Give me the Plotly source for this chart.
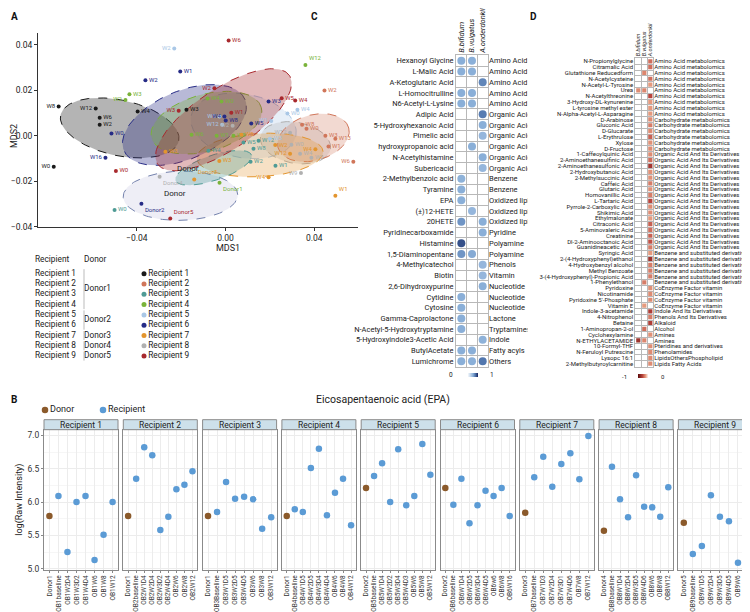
import numpy as np
import plotly.graph_objects as go

W, H = 750, 612
FONT = "Roboto"
TXT = "#222222"


def px(v):
    return v / W


def py(v):
    return 1 - v / H


# ---------------- Panel A data ----------------
recipients = [f"Recipient {i}" for i in range(1, 10)]
recipient_colors = ["#1a1a1a", "#d0765a", "#4f9b95", "#7ab33a", "#a9c7e6",
                    "#262b86", "#e3952e", "#b0b0b0", "#a8292e"]
recipient_donor = ["Donor1", "Donor1", "Donor1", "Donor1", "Donor2", "Donor2",
                   "Donor3", "Donor4", "Donor5"]

mds_group = [1] * 7 + [2] * 7 + [3] * 7 + [4] * 9 + [5] * 7 + [6] * 9 + [7] * 9 + [8] * 7 + [9] * 8
mds_label = ["W0", "W8", "W12", "W6", "W2", "W4", "W3",
             "W2", "W8", "W0", "W3", "W13", "W1", "W6",
             "W0", "W4", "W5", "W12", "W8", "W2", "W1",
             "W3", "W2", "W4", "W0", "W6", "W1", "W8", "W12", "Donor1",
             "W2", "W4", "W0", "W1", "W3", "W8", "W12",
             "W1", "W2", "W0", "W16", "W4", "W8", "W3", "W5", "Donor2",
             "W3", "W3", "W5", "W2", "W12", "W4", "W4", "W1", "Donor3",
             "W2", "W12", "W0", "W4", "W3", "W9", "Donor4",
             "W6", "W2", "W1", "W3", "W0", "W5", "W4", "Donor5"]
mds1 = [-0.0774, -0.0752, -0.0585, -0.0567, -0.0567, -0.0396, -0.0176,
        0.0446, 0.0345, 0.0365, 0.0450, 0.0495, 0.0464, 0.0576,
        -0.0500, -0.0077, 0.0081, 0.0149, 0.0126, 0.0113, 0.0225,
        -0.0433, -0.0451, -0.0081, -0.0018, -0.0153, -0.0040, 0.0036, 0.0360, -0.0027,
        -0.0231, 0.0324, 0.0279, 0.0206, 0.0200, -0.0027, -0.0015,
        -0.0204, -0.0361, -0.0514, -0.0541, -0.0005, 0.0001, 0.0194, 0.0116, -0.0379,
        -0.0271, -0.0028, 0.0072, 0.0224, 0.0291, 0.0405, 0.0194, 0.0495, -0.0141,
        0.0032, 0.0291, 0.0297, 0.0336, 0.0387, 0.0340, -0.0297,
        0.0014, -0.0050, 0.0026, -0.0211, -0.0494, 0.0253, 0.0314, -0.0249]
mds2 = [-0.0136, 0.0128, 0.0119, 0.0079, 0.0048, 0.0106, 0.0114,
        0.0198, 0.0048, 0.0031, 0.0000, -0.0013, -0.0048, -0.0114,
        -0.0326, -0.0066, -0.0030, -0.0022, -0.0057, -0.0114, -0.0132,
        0.0182, 0.0157, 0.0163, 0.0150, 0.0004, 0.0000, 0.0000, 0.0310, -0.0207,
        0.0383, 0.0114, 0.0097, 0.0065, -0.0013, 0.0084, 0.0048,
        0.0282, 0.0243, 0.0010, -0.0097, 0.0084, 0.0067, 0.0150, 0.0054, -0.0299,
        -0.0070, -0.0111, 0.0004, -0.0041, -0.0079, -0.0060, -0.0182, -0.0264, -0.0192,
        0.0044, 0.0013, -0.0040, -0.0079, -0.0097, -0.0164, -0.0180,
        0.0418, 0.0208, 0.0101, 0.0109, -0.0155, 0.0164, 0.0155, -0.0364]
label_side = ["L", "L", "L", "R", "R", "R", "R",
              "R", "R", "R", "R", "R", "R", "L",
              "R", "R", "R", "R", "R", "R", "R",
              "R", "L", "R", "R", "R", "R", "R", "TR", "BR",
              "L", "R", "R", "L", "R", "L", "L",
              "R", "R", "R", "L", "L", "R", "R", "R", "BR",
              "R", "R", "R", "R", "L", "L", "L", "TR", "TR",
              "L", "L", "R", "R", "R", "L", "BR",
              "R", "L", "R", "L", "R", "R", "R", "TR"]

# 95% ellipses (group 0 = Donor)
ell_group = [0, 1, 5, 8, 2, 7, 3, 6, 4, 9]
ell_cx = [-0.0203, -0.0477, 0.0081, 0.0315, 0.0396, 0.0155, -0.0054, -0.0185, -0.0086, -0.0009]
ell_cy = [-0.0264, 0.0034, 0.0043, -0.0031, -0.0009, -0.0085, -0.0141, 0.0047, 0.0057, 0.0070]
ell_a = [0.0258, 0.0272, 0.0240, 0.0160, 0.0165, 0.0285, 0.0180, 0.0295, 0.0256, 0.0355]
ell_b = [0.0108, 0.0122, 0.0140, 0.0090, 0.0100, 0.0095, 0.0055, 0.0150, 0.0125, 0.0135]
ell_deg = [1, -12, -10, -10, 15, 3, 18, 22, 15, 33]

# ---------------- Panel C data ----------------
c_metabolites = ["Hexanoyl Glycine", "L-Malic Acid", "A-Ketoglutaric Acid", "L-Homocitrulline",
                 "N6-Acetyl-L-Lysine", "Adipic Acid", "5-Hydroxyhexanoic Acid", "Pimelic acid",
                 "hydroxypropanoic acid", "N-Acetylhistamine", "Subericacid", "2-Methylbenzoic acid",
                 "Tyramine", "EPA", "(±)12-HETE", "20HETE", "Pyridinecarboxamide", "Histamine",
                 "1,5-Diaminopentane", "4-Methylcatechol", "Biotin", "2,6-Dihydroxypurine",
                 "Cytidine", "Cytosine", "Gamma-Caprolactone", "N-Acetyl-5-Hydroxytryptamine",
                 "5-Hydroxyindole3-Acetic Acid", "ButylAcetate", "Lumichrome"]
c_classes = (["Amino Acid"] * 5 + ["Organic Acid"] * 6 + ["Benzene"] * 2 + ["Oxidized lipid"] * 3
             + ["Pyridine"] + ["Polyamine"] * 2
             + ["Phenols", "Vitamin", "Nucleotide", "Nucleotide", "Nucleotide", "Lactone",
                "Tryptamines", "Indole", "Fatty acyls", "Others"])
bacteria = ["B.bifidum", "B.vulgatus", "A.onderdonkii"]
N = None
c_bif = [0.5, 0.5, N, 0.5, 0.5, N, N, N, N, N, N, 0.48, 0.5, 0.5, N, 0.6, N, 0.85,
         0.6, N, N, N, 0.5, 0.5, 0.5, 0.5, N, 0.5, 0.5]
c_vul = [0.5, 0.5, N, 0.5, 0.5, N, N, N, 0.5, N, N, N, N, N, 0.45, N, N, N,
         0.52, N, N, N, N, N, N, N, N, 0.5, 0.5]
c_ond = [N, N, 0.66, N, N, 0.7, 0.5, 0.45, N, 0.5, 0.45, N, N, N, N, 0.5, 0.5, N,
         N, 0.45, 0.45, 0.5, N, N, N, N, 0.48, N, 0.72]

# ---------------- Panel D data ----------------
d_metabolites = ["N-Propionylglycine", "Citramalic Acid", "Glutathione Reducedform", "N-Acetylcysteine",
                 "N-Acetyl-L-Tyrosine", "Urea", "N-Acetylthreonine", "3-Hydroxy-DL-kynurenine",
                 "L-tyrosine methyl ester", "N-Alpha-Acetyl-L-Asparagine", "D-Arabinose", "Gluconic Acid",
                 "D-Glucarate", "L-Erythrulose", "Xylose", "D-Fructose", "1-Caffeoylquinic Acid",
                 "2-Aminoethanesulfinic Acid", "2-Aminoethanesulfonic Acid", "2-Hydroxybutanoic Acid",
                 "2-Methylsuccinic Acid", "Caffeic Acid", "Glutaric Acid", "Homovanillic Acid",
                 "L-Tartaric Acid", "Pyrrole-2-Carboxylic Acid", "Shikimic Acid", "Ethylmalonate",
                 "Citraconic Acid", "5-Aminovaleric Acid", "Creatinine", "Dl-2-Aminooctanoic Acid",
                 "Guanidineacetic Acid", "Syringic Acid", "2-(4-Hydroxyphenyl)ethanol",
                 "4-Hydroxybenzyl alcohol", "Methyl Benzoate", "3-(4-Hydroxyphenyl)-Propionic Acid",
                 "1-Phenylethanol", "Pyridoxine", "Nicotinamide", "Pyridoxine 5'-Phosphate",
                 "Vitamin E", "Indole-3-acetamide", "4-Nitrophenol", "Betaine", "1-Aminopropan-2-ol",
                 "Cyclohexylamine", "N-ETHYLACETAMIDE", "10-Formyl-THF", "N-Feruloyl Putrescine",
                 "Lysopc 16:1", "2-Methylbutyroylcarnitine"]
d_classes = (["Amino Acid metabolomics"] * 10 + ["Carbohydrate metabolomics"] * 6
             + ["Organic Acid And Its Derivatives"] * 17 + ["Benzene and substituted derivatives"] * 6
             + ["CoEnzyme Factor vitamin"] * 4
             + ["Indole And Its Derivatives", "Phenols And Its Derivatives", "Alkaloid", "Alcohol",
                "Amines", "Amines", "Pteridines and derivatives", "Phenolamides",
                "LipidsOthersPhospholipid", "Lipids Fatty Acids"])
d_bif = [N] * 5 + [-0.30] + [N] * 42 + [-0.68] + [N] * 4
d_vul = [N, N, -0.32, N, N, -0.32] + [N] * 32 + [-0.35, N, N, N, -0.25, N, N, N, -0.40, N, -0.32, N, N, N, N]
d_ond = [-0.40, -0.40, N, -0.40, -0.25, N, -0.55, -0.25, -0.25, -0.25,
         -0.30, -0.35, -0.30, -0.45, -0.28, -0.30,
         -0.30, -0.40, -0.65, -0.28, -0.28, -0.35, -0.28, -0.35, -0.55, -0.30, -0.30, -0.25,
         -0.45, -0.40, -0.45, -0.50, -0.35,
         -0.25, -0.68, -0.35, -0.35, -0.35, N,
         -0.28, -0.30, -0.30, N,
         -0.60, -0.35, -0.60, N, -0.28, N, -0.30, -0.30, -0.30, -0.30]

# ---------------- Panel B data ----------------
b_samples = [
    ["Donor1", "OB1baseline", "OB1W2D4", "OB1W3D2", "OB1W4D4", "OB1W6", "OB1W8", "OB1W12"],
    ["Donor1", "OB2baseline", "OB2W1D4", "OB2W2D4", "OB2W3D2", "OB2W4D4", "OB2W6", "OB2W8", "OB2W12"],
    ["Donor1", "OB3Baseline", "OB3W1D5", "OB3W2D5", "OB3W4D5", "OB3W6", "OB3W8", "OB3W12"],
    ["Donor1", "OB4baseline", "OB4W1D5", "OB4W2D5", "OB4W3D4", "OB4W4D4", "OB4W6", "OB4W8", "OB4W12"],
    ["Donor2", "OB5baseline", "OB5W1D4", "OB5W2D2", "OB5W3D4", "OB5W4D3", "OB5W6", "OB5W8", "OB5W12"],
    ["Donor2", "OB6baseline", "OB6W1D4", "OB6W2D5", "OB6W3D4", "OB6W4D5", "OB6w6", "OB6W8", "OB6W16"],
    ["Donor3", "OB7baseline", "OB7W1D3", "OB7W2D4", "OB7W3D1", "OB7W4D6", "OB7W8", "OB7W12"],
    ["Donor4", "OB8baseline", "OB8W1D4", "OB8W2D4", "OB8W3D5", "OB8W4D6", "OB8W6", "OB8W8", "OB8W12"],
    ["Donor5", "OB9baseline", "OB9W1D5", "OB9W2D4", "OB9W3D5", "OB9W4D5", "OB9W6", "OB9W8"],
]
b_values = [
    [5.79, 6.09, 5.25, 6.00, 6.09, 5.13, 5.51, 6.00],
    [5.79, 6.35, 6.82, 6.70, 5.58, 5.78, 6.19, 6.26, 6.46],
    [5.79, 5.85, 6.30, 6.05, 6.08, 6.04, 5.60, 5.77],
    [5.79, 5.89, 5.85, 6.51, 6.80, 5.80, 6.14, 6.35, 5.65],
    [6.21, 6.39, 6.58, 6.00, 6.79, 5.95, 6.09, 6.87, 6.41],
    [6.21, 5.96, 6.35, 5.68, 5.95, 6.17, 6.09, 6.21, 5.79],
    [5.84, 6.37, 6.68, 6.23, 6.57, 6.73, 6.34, 6.99],
    [5.57, 6.53, 6.04, 5.77, 6.40, 5.93, 5.92, 5.78, 6.22],
    [5.69, 5.22, 5.34, 6.10, 5.78, 5.71, 5.09, 5.53],
]
b_yticks = [5.0, 5.5, 6.0, 6.5, 7.0]
b_legend = ["Donor", "Recipient"]
donor_color = "#8b5a2b"
recipient_color = "#5b9bd5"


def rgba(hex_color, alpha):
    h = hex_color.lstrip("#")
    r, g, b = int(h[0:2], 16), int(h[2:4], 16), int(h[4:6], 16)
    return f"rgba({r},{g},{b},{alpha})"


def note(x, y, text, size, color=TXT, angle=0, xref="paper", yref="paper"):
    return dict(x=x, y=y, xref=xref, yref=yref, text=text, showarrow=False,
                xanchor="center", yanchor="middle", textangle=angle,
                font=dict(size=size, color=color, family=FONT))


fig = go.Figure()
layout = dict(
    width=W, height=H, margin=dict(l=0, r=0, t=0, b=0, autoexpand=False),
    paper_bgcolor="white", plot_bgcolor="white",
    font=dict(family=FONT, size=9, color=TXT),
    showlegend=False,
)

# ---------------- Panel A ----------------
theta = np.linspace(0, 2 * np.pi, 160)
for g, cx, cy, a, b, d in zip(ell_group, ell_cx, ell_cy, ell_a, ell_b, ell_deg):
    ang = np.deg2rad(d)
    ex = cx + a * np.cos(theta) * np.cos(ang) - b * np.sin(theta) * np.sin(ang)
    ey = cy + a * np.cos(theta) * np.sin(ang) + b * np.sin(theta) * np.cos(ang)
    if g == 0:
        fc, lc = "rgba(205,205,228,0.35)", "#7482ad"
    else:
        col = recipient_colors[g - 1]
        alpha = 0.28 if g in (5, 8, 2, 7) else 0.33
        fc, lc = rgba(col, alpha), col
    fig.add_trace(go.Scatter(x=ex, y=ey, mode="lines", fill="toself", fillcolor=fc,
                             line=dict(color=lc, width=1, dash="dash"),
                             hoverinfo="skip", xaxis="x", yaxis="y"))

side_map = {"L": "middle left", "R": "middle right", "TR": "top right",
            "BR": "bottom right", "T": "top center"}
for gi in range(1, 10):
    idx = [i for i, g in enumerate(mds_group) if g == gi]
    col = recipient_colors[gi - 1]
    fig.add_trace(go.Scatter(
        x=[mds1[i] for i in idx], y=[mds2[i] for i in idx],
        text=[mds_label[i] for i in idx],
        textposition=[side_map[label_side[i]] for i in idx],
        mode="markers+text", marker=dict(color=col, size=4),
        textfont=dict(color=col, size=6, family=FONT),
        hoverinfo="skip", xaxis="x", yaxis="y"))

layout["xaxis"] = dict(domain=[px(30), px(350)], range=[-0.0845, 0.0597], anchor="y",
                       automargin=False,
                       tickvals=[-0.04, 0, 0.04], ticktext=["\u22120.04", "0.00", "0.04"],
                       showline=True, linecolor="#333", linewidth=1, ticks="outside", ticklen=3,
                       tickcolor="#333", showgrid=False, zeroline=False, tickfont=dict(size=8.5))
layout["yaxis"] = dict(domain=[py(219), py(25)], range=[-0.0401, 0.0451], anchor="x",
                       automargin=False,
                       tickvals=[-0.04, -0.02, 0, 0.02, 0.04],
                       ticktext=["\u22120.04", "\u22120.02", "0.00", "0.02", "0.04"],
                       showline=True, linecolor="#333", linewidth=1, ticks="outside", ticklen=3,
                       tickcolor="#333", showgrid=False, zeroline=False, tickfont=dict(size=8.5))

annotations = [note(px(220), py(240), "MDS1", 9), note(px(6), py(128), "MDS2", 9, angle=-90)]
annotations.append(note(-0.0168, -0.0142, "Donor", 8, xref="x", yref="y"))
annotations.append(note(-0.0226, -0.0252, "Donor", 8, xref="x", yref="y"))

# Panel A legend (own invisible axis, pixel-like units)
row_y = [265.7 + 10.3 * i for i in range(9)]
fig.add_trace(go.Scatter(x=[27] * 9 + [27, 76], y=[-v for v in row_y] + [-252, -252],
                         text=recipients + ["Recipient", "Donor"], mode="text",
                         textposition="middle right", textfont=dict(size=8.3, color=TXT),
                         hoverinfo="skip", xaxis="x15", yaxis="y15"))
donor_names = sorted(set(recipient_donor))
shapes = []
dl_y = []
for dn in donor_names:
    rows = [row_y[i] for i, d in enumerate(recipient_donor) if d == dn]
    dl_y.append(-(min(rows) + max(rows)) / 2)
    shapes.append(dict(type="line", xref="x15", yref="y15", x0=76, x1=76,
                       y0=-(min(rows) - 4.5), y1=-(max(rows) + 4.5),
                       line=dict(color="#bbbbbb", width=1)))
fig.add_trace(go.Scatter(x=[76] * len(donor_names), y=dl_y, text=donor_names, mode="text",
                         textposition="middle right", textfont=dict(size=8.3, color=TXT),
                         hoverinfo="skip", xaxis="x15", yaxis="y15"))
fig.add_trace(go.Scatter(x=[136] * 9, y=[-v for v in row_y], text=recipients,
                         mode="markers+text", textposition="middle right",
                         marker=dict(color=recipient_colors, size=5),
                         textfont=dict(size=8.3, color=TXT),
                         hoverinfo="skip", xaxis="x15", yaxis="y15"))
layout["xaxis15"] = dict(domain=[0, px(300)], range=[0, 300], anchor="y15", visible=False)
layout["yaxis15"] = dict(domain=[py(360), py(245)], range=[-360, -245], anchor="x15", visible=False)

# ---------------- Panel C ----------------
cx_, cy_, cv_ = [], [], []
for j, col in enumerate([c_bif, c_vul, c_ond]):
    for i, v in enumerate(col):
        if v is not None:
            cx_.append(j)
            cy_.append(i)
            cv_.append(v)
nC = len(c_metabolites)
fig.add_trace(go.Scatter(
    x=cx_, y=cy_, mode="markers",
    marker=dict(size=8, color=cv_, cmin=0, cmax=1,
                colorscale=[[0, "#f6f9fc"], [0.5, "#8aafd8"], [0.75, "#4a6fa8"], [1, "#18245c"]],
                showscale=True, line=dict(width=0),
                colorbar=dict(orientation="h", x=px(465), xanchor="center", y=py(366.5),
                              yanchor="middle", len=30, lenmode="pixels", thickness=4,
                              showticklabels=False, ticks="", outlinewidth=0)),
    hoverinfo="skip", xaxis="x2", yaxis="y2"))
fig.add_trace(go.Scatter(x=[0], y=[0], mode="markers", marker=dict(opacity=0),
                         hoverinfo="skip", xaxis="x2", yaxis="y3"))
grid_col = "#b8b8b8"
layout["xaxis2"] = dict(domain=[px(448), px(480)], range=[-0.5, 2.5], anchor="y2", side="top",
                        automargin=False,
                        tickmode="array", tickvals=[0, 1, 2],
                        ticktext=[f"<i>{b}</i>" for b in bacteria], tickangle=-90,
                        tickfont=dict(size=7.5), ticks="", showgrid=False, zeroline=False,
                        showline=True, mirror=True, linecolor=grid_col, linewidth=1,
                        minor=dict(tickmode="array", tickvals=[0.5, 1.5], showgrid=True,
                                   gridcolor=grid_col, gridwidth=1, ticks=""))
layout["yaxis2"] = dict(domain=[py(358.7), py(47.3)], range=[nC - 0.5, -0.5], anchor="x2",
                        automargin=False,
                        tickmode="array", tickvals=list(range(nC)), ticktext=c_metabolites,
                        tickfont=dict(size=7.5), ticks="", showgrid=False, zeroline=False,
                        showline=True, mirror=True, linecolor=grid_col, linewidth=1,
                        minor=dict(tickmode="array", tickvals=[i + 0.5 for i in range(nC - 1)],
                                   showgrid=True, gridcolor=grid_col, gridwidth=1, ticks=""))
layout["yaxis3"] = dict(overlaying="y2", anchor="x2", side="right", range=[nC - 0.5, -0.5],
                        automargin=False,
                        tickmode="array", tickvals=list(range(nC)), ticktext=c_classes,
                        tickfont=dict(size=7.5), ticks="", showgrid=False, zeroline=False,
                        showline=False)
annotations.append(note(px(443), py(366.5), "0", 6.5))
annotations.append(note(px(484), py(366.5), "1", 6.5))

# ---------------- Panel D ----------------
dx_, dy_, dv_ = [], [], []
for j, col in enumerate([d_bif, d_vul, d_ond]):
    for i, v in enumerate(col):
        if v is not None:
            dx_.append(j)
            dy_.append(i)
            dv_.append(v)
nD = len(d_metabolites)
fig.add_trace(go.Scatter(
    x=dx_, y=dy_, mode="markers",
    marker=dict(size=4.2, color=dv_, cmin=-1, cmax=0, symbol="square",
                colorscale=[[0, "#5c0b0b"], [0.45, "#b8443c"], [0.75, "#e59a7e"], [1, "#fdf2ee"]],
                showscale=True, line=dict(width=0),
                colorbar=dict(orientation="h", x=px(635), xanchor="center", y=py(368),
                              yanchor="middle", len=30, lenmode="pixels", thickness=4,
                              showticklabels=False, ticks="", outlinewidth=0)),
    hoverinfo="skip", xaxis="x4", yaxis="y4"))
fig.add_trace(go.Scatter(x=[0], y=[0], mode="markers", marker=dict(opacity=0),
                         hoverinfo="skip", xaxis="x4", yaxis="y5"))
layout["xaxis4"] = dict(domain=[px(627.3), px(645.3)], range=[-0.5, 2.5], anchor="y4", side="top",
                        automargin=False,
                        tickmode="array", tickvals=[0, 1, 2],
                        ticktext=[f"<i>{b}</i>" for b in bacteria], tickangle=-90,
                        tickfont=dict(size=5.5), ticks="", showgrid=False, zeroline=False,
                        showline=True, mirror=True, linecolor=grid_col, linewidth=1,
                        minor=dict(tickmode="array", tickvals=[0.5, 1.5], showgrid=True,
                                   gridcolor=grid_col, gridwidth=1, ticks=""))
layout["yaxis4"] = dict(domain=[py(358.6), py(50.4)], range=[nD - 0.5, -0.5], anchor="x4",
                        automargin=False,
                        tickmode="array", tickvals=list(range(nD)), ticktext=d_metabolites,
                        tickfont=dict(size=6), ticks="", showgrid=False, zeroline=False,
                        showline=True, mirror=True, linecolor=grid_col, linewidth=1,
                        minor=dict(tickmode="array", tickvals=[i + 0.5 for i in range(nD - 1)],
                                   showgrid=True, gridcolor=grid_col, gridwidth=1, ticks=""))
layout["yaxis5"] = dict(overlaying="y4", anchor="x4", side="right", range=[nD - 0.5, -0.5],
                        automargin=False,
                        tickmode="array", tickvals=list(range(nD)), ticktext=d_classes,
                        tickfont=dict(size=6), ticks="", showgrid=False, zeroline=False,
                        showline=False)
annotations.append(note(px(616), py(368), "-1", 6))
annotations.append(note(px(655), py(368), "0", 6))
# clip panel C class labels where panel D starts
shapes.append(dict(type="rect", xref="paper", yref="paper", x0=px(519.5), x1=px(541),
                   y0=py(225), y1=py(45), fillcolor="white", line=dict(width=0), layer="above"))
shapes.append(dict(type="rect", xref="paper", yref="paper", x0=px(519.5), x1=px(541),
                   y0=py(328), y1=py(314), fillcolor="white", line=dict(width=0), layer="above"))

# ---------------- Panel B ----------------
b_ydom = [py(561.7), py(421.7)]
for k in range(9):
    ax = 6 + k
    xn, yn = f"x{ax}", f"y{ax}"
    left = 36 + 79.3 * k
    right = left + 74
    samples, vals = b_samples[k], b_values[k]
    fig.add_trace(go.Scatter(x=[samples[0]], y=[vals[0]], mode="markers",
                             marker=dict(color=donor_color, size=6.5),
                             hoverinfo="skip", xaxis=xn, yaxis=yn))
    fig.add_trace(go.Scatter(x=samples[1:], y=vals[1:], mode="markers",
                             marker=dict(color=recipient_color, size=6.5),
                             hoverinfo="skip", xaxis=xn, yaxis=yn))
    layout[f"xaxis{ax}"] = dict(domain=[px(left), px(right)], anchor=yn, type="category",
                                automargin=False,
                                categoryorder="array", categoryarray=samples,
                                tickmode="array", tickvals=samples, ticktext=samples,
                                range=[-0.6, len(samples) - 0.4], tickangle=-90,
                                tickfont=dict(size=6.5, color="#333"), ticks="outside",
                                ticklen=2, tickcolor="#888", showgrid=True, gridcolor="#ececec",
                                showline=True, mirror=True, linecolor="#8a8a8a", linewidth=1,
                                zeroline=False)
    yd = dict(domain=b_ydom, anchor=xn, range=[4.985, 7.085], tickmode="array",
              automargin=False,
              tickvals=b_yticks, ticktext=[f"{v:.1f}" for v in b_yticks],
              showticklabels=(k == 0), tickfont=dict(size=8.5, color="#333"),
              ticks="outside" if k == 0 else "", ticklen=2, tickcolor="#888",
              showgrid=True, gridcolor="#ececec", zeroline=False,
              showline=True, mirror=True, linecolor="#8a8a8a", linewidth=1,
              minor=dict(tickmode="array", tickvals=[5.25, 5.75, 6.25, 6.75], showgrid=True,
                         gridcolor="#f6f6f6", ticks=""))
    layout[f"yaxis{ax}"] = yd
    shapes.append(dict(type="rect", xref="paper", yref="paper", x0=px(left), x1=px(right),
                       y0=py(421.7), y1=py(411.7), fillcolor="#cde0ea",
                       line=dict(color="#8a8a8a", width=1), layer="above"))
    annotations.append(note(px((left + right) / 2), py(416.7), recipients[k], 8.5))

# Panel B legend (own invisible axis, pixel-like units)
fig.add_trace(go.Scatter(x=[37, 95], y=[-402, -402], text=b_legend, mode="markers+text",
                         textposition="middle right",
                         marker=dict(color=[donor_color, recipient_color], size=6.5),
                         textfont=dict(size=9, color=TXT),
                         hoverinfo="skip", xaxis="x16", yaxis="y16"))
layout["xaxis16"] = dict(domain=[0, px(200)], range=[0, 200], anchor="y16", visible=False)
layout["yaxis16"] = dict(domain=[py(410), py(394)], range=[-410, -394], anchor="x16", visible=False)

annotations.append(note(px(12), py(491.7), "log(Raw Intensity)", 9, angle=-90))
annotations.append(note(px(375), py(392), "Eicosapentaenoic acid (EPA)", 10.5))
for letter, lx, ly in [("A", 6, 9), ("C", 306, 9), ("D", 525, 9), ("B", 6, 392)]:
    annotations.append(note(px(lx), py(ly), f"<b>{letter}</b>", 10, color="#111"))

layout["annotations"] = annotations
layout["shapes"] = shapes
fig.update_layout(**layout)
fig.write_html("out.html")
